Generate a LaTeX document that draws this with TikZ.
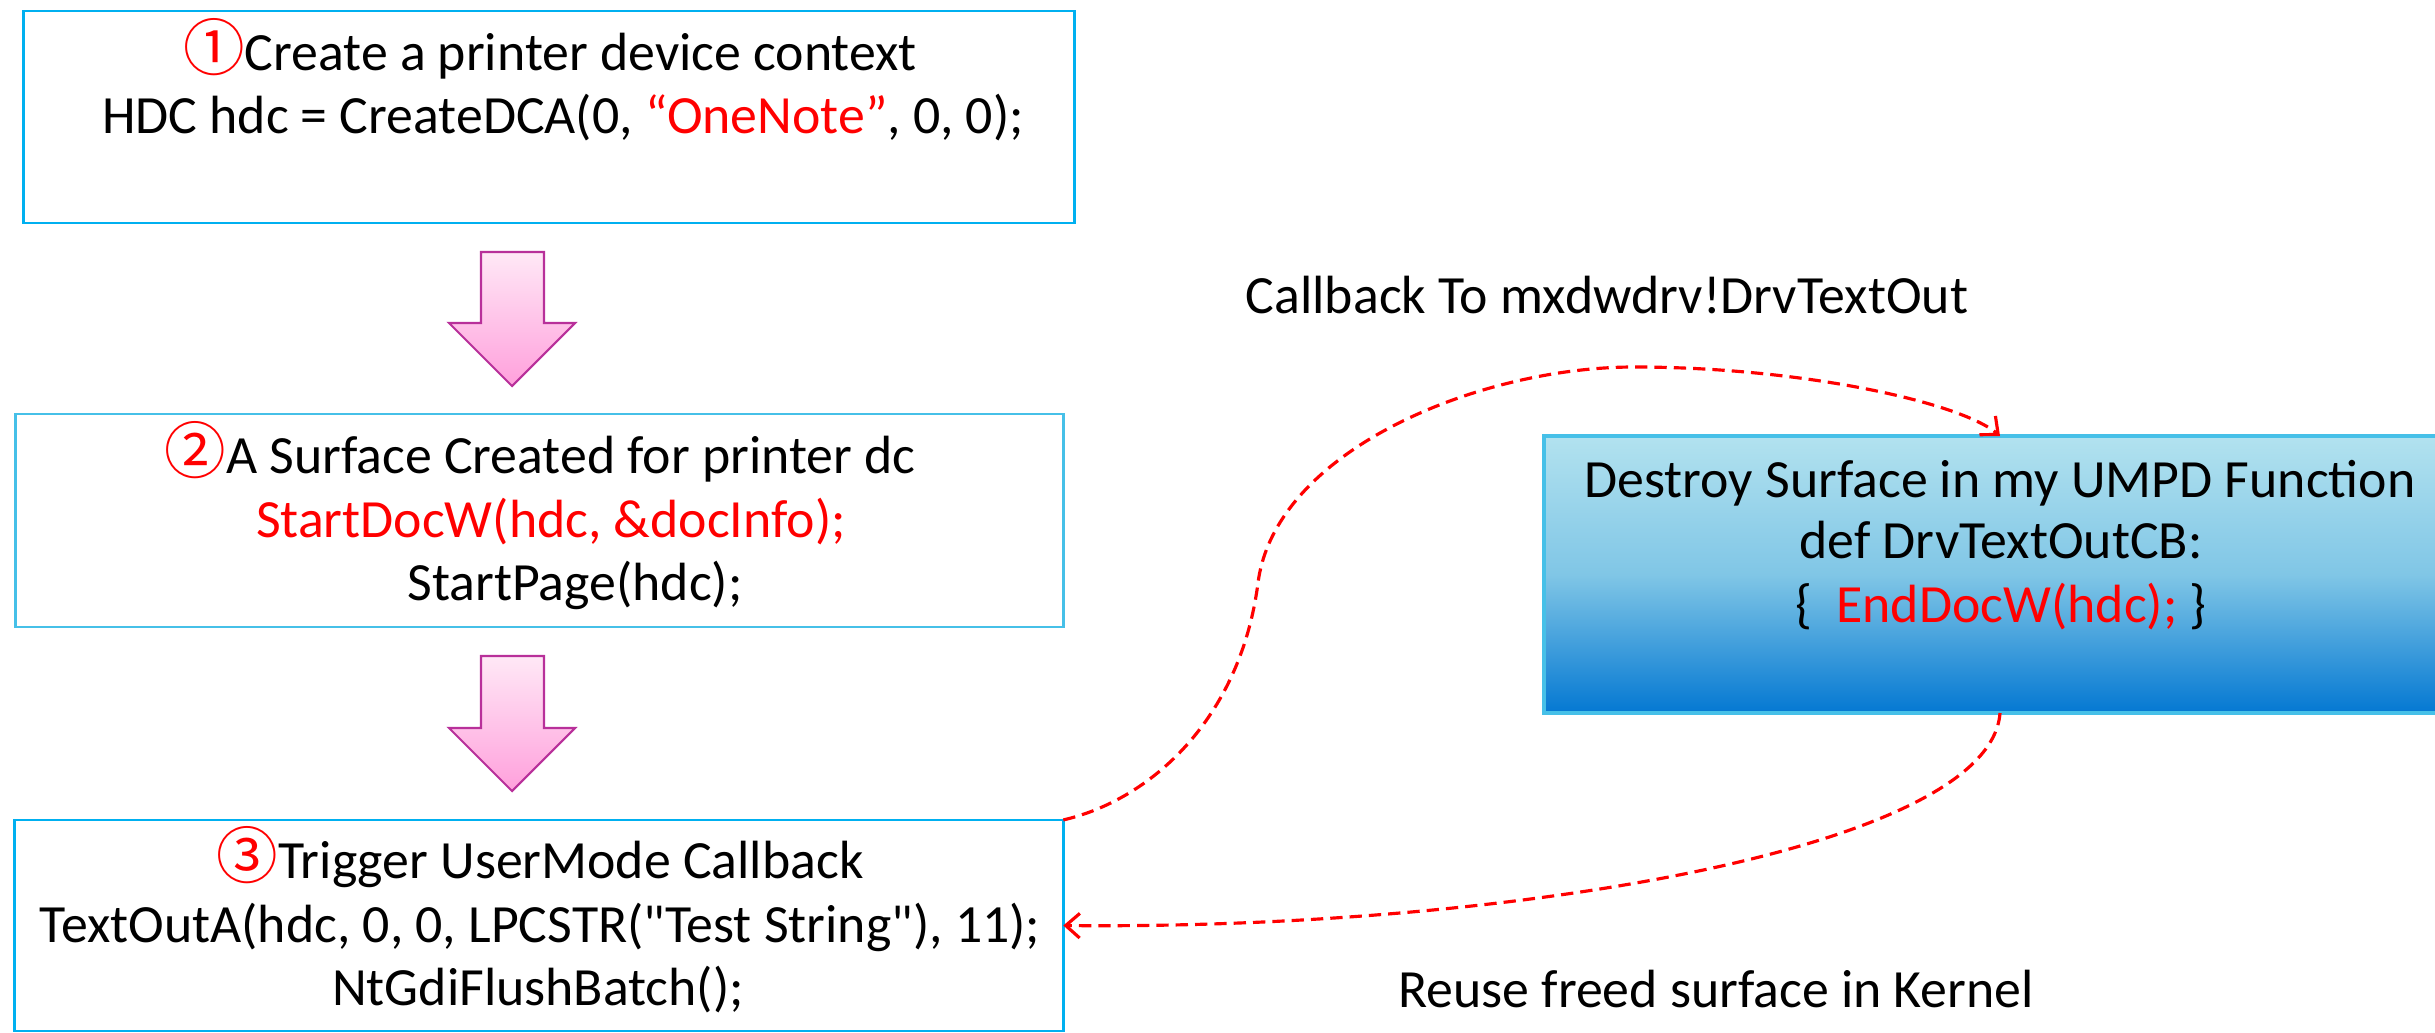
\documentclass[tikz,border=0pt]{standalone}
\usepackage{fontspec}
\setmainfont{Carlito}
\newfontfamily\cjk{Noto Sans CJK SC}
\usetikzlibrary{arrows.meta}
\definecolor{boxblue}{RGB}{0,176,240}
\definecolor{boxblueb}{RGB}{70,192,232}
\definecolor{gradtop}{RGB}{178,226,239}
\definecolor{gradmid}{RGB}{128,198,230}
\definecolor{gradbot}{RGB}{4,120,210}
\definecolor{pinktop}{RGB}{255,232,246}
\definecolor{pinkbot}{RGB}{255,160,220}
\definecolor{pinkline}{RGB}{184,48,154}
\definecolor{txtred}{RGB}{255,0,0}
\newcommand{\cnum}[1]{{\cjk\fontsize{17.5}{18}\selectfont\textcolor{txtred}{#1}}}
\begin{document}
\begin{tikzpicture}[x=0.01cm,y=-0.01cm,
  plainbox/.style={draw=boxblue, line width=0.8pt, inner sep=0pt, outer sep=0pt},
  gradbox/.style={draw=boxblueb, line width=1.1pt, inner sep=0pt, outer sep=0pt,
    top color=gradtop, bottom color=gradbot, middle color=gradmid},
  txt/.style={anchor=base, inner sep=0pt, font=\fontsize{15.3}{18}\selectfont},
  pinkarrow/.style={draw=pinkline, line width=0.6pt, top color=pinktop, bottom color=pinkbot, line join=miter},
  cb/.style={draw=txtred, line width=0.9pt, dash pattern=on 3.5pt off 2pt, -{Straight Barb[length=4pt,width=7pt]}}
]
\useasboundingbox (0,0) rectangle (2435,1033);

% boxes
\node[plainbox, minimum width=10.50cm, minimum height=2.12cm] (box1) at (549,117) {};
\node[plainbox, draw=boxblueb, minimum width=10.47cm, minimum height=2.13cm] (box2) at (539.5,520.5) {};
\node[plainbox, minimum width=10.48cm, minimum height=2.11cm] (box3) at (539,925.5) {};
\node[gradbox, minimum width=9.12cm, minimum height=2.77cm] (box4) at (2000,574.5) {};

% box 1 text
\node[txt] (t11) at (550,70) {\cnum{①}Create a printer device context};
\node[txt] (t12) at (563,133) {HDC hdc = CreateDCA(0, \textcolor{txtred}{“OneNote”}, 0, 0);};

% box 2 text
\node[txt] (t21) at (540,473) {\cnum{②}A Surface Created for printer dc};
\node[txt, text=txtred] (t22) at (551,537) {StartDocW(hdc, \&docInfo);};
\node[txt] (t23) at (575,600) {StartPage(hdc);};

% box 3 text
\node[txt] (t31) at (540,878) {\cnum{③}Trigger UserMode Callback};
\node[txt] (t32) at (540,942) {TextOutA(hdc, 0, 0, LPCSTR(\textquotedbl Test String\textquotedbl), 11);};
\node[txt] (t33) at (538,1005) {NtGdiFlushBatch();};

% box 4 text
\node[txt] (t41) at (2000,497) {Destroy Surface in my UMPD Function};
\node[txt] (t42) at (2001,558) {def DrvTextOutCB:};
\node[txt] (t43) at (2001,622) {\{\ \ \textcolor{txtred}{EndDocW(hdc);} \}};

% labels
\node[txt] (l1) at (1607,313) {Callback To mxdwdrv!DrvTextOut};
\node[txt] (l2) at (1716,1007) {Reuse freed surface in Kernel};

% pink block arrows
\path[pinkarrow] (481,252) -- (544,252) -- (544,323) -- (575,323) -- (512,386) -- (449,323) -- (481,323) -- cycle;
\path[pinkarrow] (481,656) -- (544,656) -- (544,728) -- (575,728) -- (512,791) -- (449,728) -- (481,728) -- cycle;

% callback connectors
\coordinate (c4top) at (2000,436);
\coordinate (c4bot) at (2000,713);
\draw[cb] (box3.north east) .. controls (1150,800) and (1240,720) .. (1258,583)
  .. controls (1275,450) and (1480,367) .. (1634,367)
  .. controls (1800,367) and (1960,402) .. (c4top);
\draw[cb] (c4bot) .. controls (1990,850) and (1500,930) .. (box3.east);
\end{tikzpicture}
\end{document}
